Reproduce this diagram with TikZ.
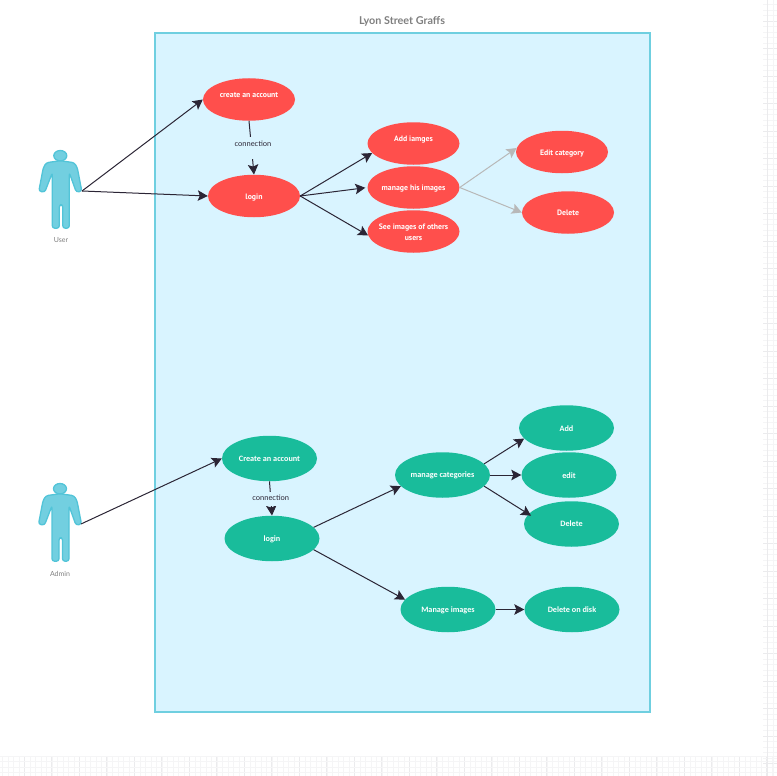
\documentclass[tikz,border=0pt]{standalone}
\usepackage{fontspec}
\setmainfont{Carlito}
\newfontfamily\redfont{PT Sans}
\newfontfamily\labelfont{Lato}
\usetikzlibrary{arrows.meta,shapes.geometric,positioning,calc}
\definecolor{panelfill}{HTML}{D9F4FF}
\definecolor{paneldraw}{HTML}{6FCFE0}
\definecolor{actorfill}{HTML}{72CFE0}
\definecolor{actordraw}{HTML}{52C4D8}
\definecolor{casered}{HTML}{FF4F4C}
\definecolor{casegreen}{HTML}{19BC9B}
\definecolor{linkdark}{HTML}{2B2535}
\definecolor{greytext}{HTML}{7F7F7F}
\definecolor{gridminor}{HTML}{F5F5F6}
\definecolor{gridmajor}{HTML}{EBEBED}
\begin{document}
\begin{tikzpicture}[
    x=1pt, y=-1pt,
    redcase/.style={ellipse, fill=casered, text=white, minimum width=92pt, minimum height=42.5pt, inner xsep=-6pt, inner ysep=0pt, align=center, font=\redfont\bfseries\fontsize{7.8}{11}\selectfont},
    redone/.style={redcase, text height=6.5pt, text depth=0.5pt},
    redlift/.style={redcase, text height=5.5pt, text depth=10.5pt},
    greencase/.style={ellipse, fill=casegreen, text=white, minimum width=95pt, minimum height=45.5pt, inner sep=0pt, font=\bfseries\fontsize{8.2}{10}\selectfont, text height=6.5pt, text depth=0.5pt},
    greenup/.style={greencase, text height=5.5pt, text depth=1.5pt},
    arrow/.style={-{Stealth[length=10pt,width=10.5pt,inset=2pt]}, draw=linkdark, line width=1pt},
    fadearrow/.style={-{Stealth[length=10pt,width=10.5pt,inset=2pt]}, draw=black!28, line width=1pt},
    actorlabel/.style={font=\labelfont\fontsize{7}{8}\selectfont, text=greytext, inner sep=0pt},
    linklabel/.style={fill=panelfill, inner xsep=1pt, inner ysep=0pt, font=\labelfont\fontsize{7.5}{8}\selectfont, text=linkdark},
    actor/.pic={
        \draw[actordraw, fill=actorfill, line width=1.3pt] (0,0) ellipse (6.5 and 5.2);
        \draw[actordraw, fill=actorfill, line width=1.3pt, rounded corners=2.5pt, line join=round]
            (-14,7) -- (0,5) -- (14,7) -- (17,12) -- (21.5,35.5) -- (16,36.5) -- (9,17) -- (9,72.5) -- (2.5,72.5) -- (2.5,49) -- (-1,49) -- (-1,72.5) -- (-8,72.5) -- (-8,17) -- (-15.5,36.5) -- (-21.5,35.5) -- (-17,12) -- cycle;
    }
]
    \useasboundingbox (0,0) rectangle (777,776);
    \foreach \i in {0,...,140} {
        \draw[gridminor, line width=0.6pt] (2.3+5.5*\i,756) -- (2.3+5.5*\i,776);
    }
    \foreach \i in {0,...,27} {
        \draw[gridmajor, line width=0.7pt] (24.3+27.5*\i,756) -- (24.3+27.5*\i,776);
    }
    \foreach \y in {756.5,761.7,766.9,772.1} {
        \draw[gridminor, line width=0.6pt] (0,\y) -- (777,\y);
    }
    \foreach \i in {0,...,137} {
        \draw[gridminor, line width=0.6pt] (763,4.5+5.5*\i) -- (777,4.5+5.5*\i);
    }
    \foreach \i in {0,...,27} {
        \draw[gridmajor, line width=0.7pt] (763,21+27.5*\i) -- (777,21+27.5*\i);
    }
    \draw[gridmajor, line width=0.7pt] (767.3,0) -- (767.3,776);
    \draw[gridminor, line width=0.6pt] (772.8,0) -- (772.8,776);

    \node[font=\labelfont\bfseries\fontsize{10.8}{12}\selectfont, text=greytext] (title) at (402,21) {Lyon Street Graffs};
    \node[draw=paneldraw, fill=panelfill, line width=2pt, minimum width=495pt, minimum height=679pt, inner sep=0pt] (panel) at (402.5,372.5) {};

    \pic at (60.3,155.7) {actor};
    \node[actorlabel] (userlabel) at (61,240.5) {User};
    \coordinate (user) at (82,191);
    \pic at (60,488.7) {actor};
    \node[actorlabel] (adminlabel) at (60,573.5) {Admin};
    \coordinate (admin) at (81,524);

    \node[redlift] (create) at (249,99.5) {create an account};
    \node[redone] (login) at (254,196) {login};
    \node[redlift] (addimg) at (413.5,143.5) {Add iamges};
    \node[redone] (manage) at (413.5,187.5) {manage his images};
    \node[redcase] (seeimg) at (413.5,231.5) {\rule{0pt}{7.5pt}See images of others\\users};
    \node[redone] (editcat) at (562,152) {Edit category};
    \node[redone] (delred) at (568,212.5) {Delete};

    \node[greencase] (createadm) at (269.5,458.5) {Create an account};
    \node[greencase] (loginadm) at (272,538.5) {login};
    \node[greenup] (mancat) at (442.5,475) {manage categories};
    \node[greencase] (addcat) at (566.5,428) {Add};
    \node[greencase] (editadm) at (569,475) {edit};
    \node[greenup] (deladm) at (571.5,524) {Delete};
    \node[greencase] (manimg) at (448,609.5) {Manage images};
    \node[greencase] (deldisk) at (572,609.5) {Delete on disk};

    \draw[arrow] (user) -- (create.west);
    \draw[arrow] (user) -- (login.west);
    \draw[arrow] (create.south) -- node[linklabel, xshift=1.5pt, text height=10pt, text depth=12pt] {connection} (login.north);
    \draw[arrow] (login.east) -- (addimg.193);
    \draw[arrow, shorten >=2pt] (login.east) -- (manage.west);
    \draw[arrow] (login.east) -- (seeimg.185);
    \draw[fadearrow] (manage.east) -- (editcat.175);
    \draw[fadearrow] (manage.east) -- (delred.west);

    \draw[arrow] (admin) -- (createadm.west);
    \draw[arrow] (createadm.south) -- node[linklabel, text height=9pt, text depth=5pt] {connection} (loginadm.north);
    \draw[arrow] (loginadm.15) -- (mancat.195);
    \draw[arrow] (loginadm.-15) -- (manimg.167);
    \draw[arrow] (mancat.15) -- (addcat.194);
    \draw[arrow] (mancat.east) -- (editadm.west);
    \draw[arrow, shorten >=-3pt] (mancat.-15) -- (deladm.167);
    \draw[arrow] (manimg.east) -- (deldisk.west);
\end{tikzpicture}
\end{document}
